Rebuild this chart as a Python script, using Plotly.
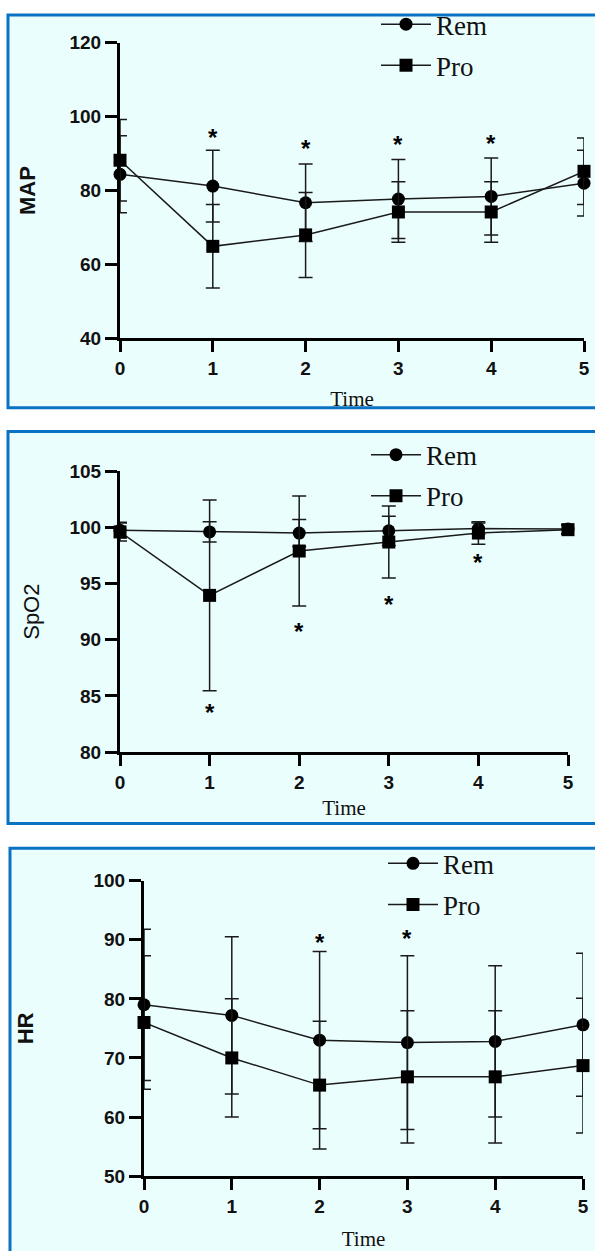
import plotly.graph_objects as go

W, H = 595, 1251

time = [0, 1, 2, 3, 4, 5]
series_names = ["Rem", "Pro"]

map_rem = [84.4, 81.2, 76.7, 77.7, 78.4, 82.0]
map_rem_sd = [10.4, 9.7, 10.5, 10.7, 10.4, 8.9]
map_pro = [88.2, 64.9, 68.0, 74.2, 74.2, 85.2]
map_pro_sd = [11.0, 11.3, 11.5, 8.2, 8.2, 9.0]
map_star_t = [1, 2, 3, 4]
map_star_y = [95.6, 92.8, 93.8, 94.2]
map_ticks = [40, 60, 80, 100, 120]

spo2_rem = [99.75, 99.6, 99.5, 99.7, 99.9, 99.85]
spo2_rem_sd = [0.7, 0.9, 1.2, 1.3, 0.5, 0.4]
spo2_pro = [99.6, 93.95, 97.9, 98.7, 99.5, 99.8]
spo2_pro_sd = [0.8, 8.5, 4.9, 3.2, 1.0, 0.4]
spo2_star_t = [1, 2, 3, 4]
spo2_star_y = [84.0, 91.2, 93.6, 97.3]
spo2_ticks = [80, 85, 90, 95, 100, 105]

hr_rem = [79.0, 77.2, 73.0, 72.6, 72.8, 75.6]
hr_rem_sd = [12.8, 13.3, 15.0, 14.7, 12.8, 12.1]
hr_pro = [76.0, 70.0, 65.4, 66.8, 66.8, 68.7]
hr_pro_sd = [11.3, 10.0, 10.8, 11.2, 11.2, 11.4]
hr_star_t = [2, 3]
hr_star_y = [90.4, 91.1]
hr_ticks = [50, 60, 70, 80, 90, 100]

SANS = "Liberation Sans"
SERIF = "Liberation Serif"
BG = "#EBFEFE"
BORDER = "#0A72C2"

panels = [
    dict(key="", ytitle="MAP", ybold="bold", rem=map_rem, rsd=map_rem_sd, pro=map_pro, psd=map_pro_sd,
         st=map_star_t, sy=map_star_y, ticks=map_ticks, yr=[40, 120],
         xd=[120, 584], yd=[33, 331], box=[8, 5, 610, 401], ystand=28, xstand=14,
         leg=[376, -10]),
    dict(key="2", ytitle="SpO2", ybold="normal", rem=spo2_rem, rsd=spo2_rem_sd, pro=spo2_pro, psd=spo2_pro_sd,
         st=spo2_star_t, sy=spo2_star_y, ticks=spo2_ticks, yr=[80, 105],
         xd=[120, 568], yd=[465, 748], box=[8, 425, 610, 820], ystand=24, xstand=9,
         leg=[366, 424]),
    dict(key="3", ytitle="HR", ybold="bold", rem=hr_rem, rsd=hr_rem_sd, pro=hr_pro, psd=hr_pro_sd,
         st=hr_star_t, sy=hr_star_y, ticks=hr_ticks, yr=[50, 100],
         xd=[144, 583], yd=[877.7, 1175.5], box=[10, 845, 610, 1265], ystand=54, xstand=16,
         leg=[383, 836]),
]

fig = go.Figure()
shapes = []
annotations = []
layout = {}

for p in panels:
    k = p["key"]
    xa, ya = "x" + k, "y" + k
    legname = "legend" + k
    for name, vals, sd, sym in [(series_names[0], p["rem"], p["rsd"], "circle"),
                                (series_names[1], p["pro"], p["psd"], "square")]:
        fig.add_trace(go.Scatter(
            x=time, y=vals, name=name, mode="lines+markers",
            xaxis=xa, yaxis=ya, legend=legname, legendgroup=name + k, cliponaxis=False,
            line=dict(color="#1a1a1a", width=1.5),
            marker=dict(symbol=sym, size=13, color="black"),
            error_y=dict(type="data", array=sd, visible=True, color="#1a1a1a",
                         thickness=1.5, width=7),
        ))
    for t, yv in zip(p["st"], p["sy"]):
        annotations.append(dict(x=t, y=yv, xref=xa, yref=ya, text="*", showarrow=False,
                                yshift=-5, font=dict(family=SANS, size=24, color="black", weight="bold")))
    x0, y0, x1, y1 = p["box"]
    shapes.append(dict(type="rect", xref="paper", yref="paper", layer="below",
                       x0=x0 / W, x1=x1 / W, y0=1 - y1 / H, y1=1 - y0 / H,
                       fillcolor=BG, line=dict(color=BORDER, width=3)))
    xdom = [p["xd"][0] / W, p["xd"][1] / W]
    ydom = [1 - p["yd"][1] / H, 1 - p["yd"][0] / H]
    layout["xaxis" + k] = dict(
        domain=xdom, range=[0, 5], anchor=ya, tickvals=time, showgrid=False, zeroline=False,
        showline=True, linecolor="black", linewidth=3, ticks="outside", ticklen=11, tickwidth=3,
        tickcolor="black",
        tickfont=dict(family=SANS, size=19, color="#111", weight="bold"),
        title=dict(text="Time", standoff=p["xstand"], font=dict(family=SERIF, size=21, color="#111")),
        automargin=False,
    )
    layout["yaxis" + k] = dict(
        domain=ydom, range=p["yr"], anchor=xa, tickvals=p["ticks"], showgrid=False, zeroline=False,
        showline=True, linecolor="black", linewidth=3, ticks="outside", ticklen=12, tickwidth=3,
        tickcolor="black",
        tickfont=dict(family=SANS, size=19, color="#111", weight="bold"),
        title=dict(text=p["ytitle"], standoff=p["ystand"],
                   font=dict(family=SANS, size=22, color="#111", weight=p["ybold"])),
        automargin=False,
    )
    lx, ly = p["leg"]
    layout[legname] = dict(
        x=lx / W, y=1 - ly / H, xanchor="left", yanchor="top", bgcolor="rgba(0,0,0,0)",
        borderwidth=0, itemwidth=50, traceorder="grouped", tracegroupgap=3,
        font=dict(family=SERIF, size=27, color="#111"),
    )

fig.update_layout(
    width=W, height=H, margin=dict(l=0, r=0, t=0, b=0),
    paper_bgcolor="white", plot_bgcolor="rgba(0,0,0,0)",
    showlegend=True, shapes=shapes, annotations=annotations,
    **layout,
)

fig.write_html("out.html", config={"displayModeBar": False},
               post_script="document.body.style.margin='0';document.body.style.overflow='hidden';")
